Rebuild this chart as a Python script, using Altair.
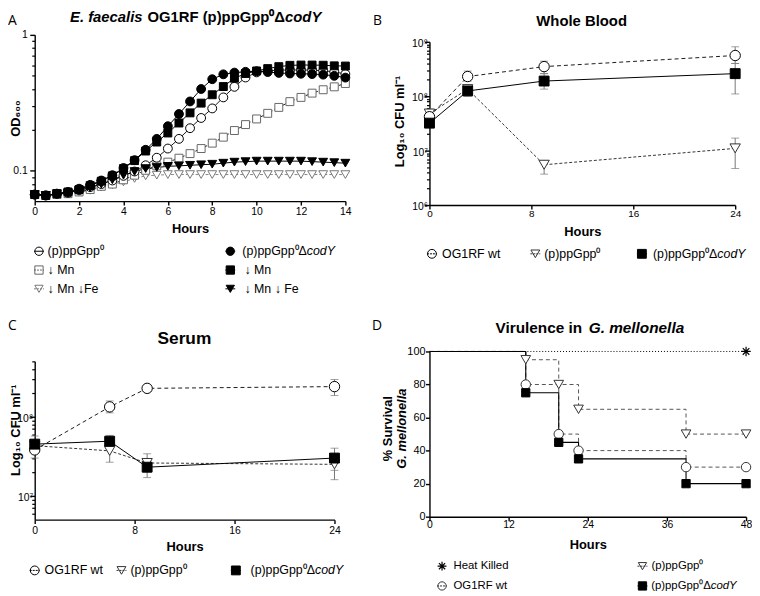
import altair as alt
import pandas as pd

# ---------------- Panel A: growth curves (OD600, log scale) ----------------
hours_a = [0, 0.5, 1, 1.5, 2, 2.5, 3, 3.5, 4, 4.5, 5, 5.5, 6, 6.5, 7, 7.5,
           8, 8.5, 9, 9.5, 10, 10.5, 11, 11.5, 12, 12.5, 13, 13.5, 14]
od_p0 = [0.067, 0.066, 0.068, 0.069, 0.072, 0.076, 0.080, 0.085, 0.092, 0.099,
         0.110, 0.125, 0.146, 0.172, 0.206, 0.245, 0.288, 0.347, 0.415, 0.486,
         0.530, 0.545, 0.550, 0.552, 0.552, 0.550, 0.545, 0.535, 0.515]
od_p0_mn = [0.067, 0.066, 0.067, 0.068, 0.070, 0.073, 0.077, 0.080, 0.086, 0.093,
            0.101, 0.109, 0.116, 0.124, 0.134, 0.146, 0.160, 0.177, 0.198, 0.219,
            0.241, 0.265, 0.293, 0.323, 0.347, 0.373, 0.395, 0.415, 0.439]
od_p0_mnfe = [0.067, 0.066, 0.067, 0.068, 0.070, 0.072, 0.076, 0.079, 0.083, 0.088,
              0.092, 0.093, 0.094, 0.094, 0.094, 0.094, 0.094, 0.094, 0.094, 0.094,
              0.094, 0.094, 0.094, 0.094, 0.094, 0.094, 0.094, 0.094, 0.094]
od_cody = [0.067, 0.066, 0.068, 0.070, 0.074, 0.079, 0.085, 0.093, 0.105, 0.120,
           0.143, 0.172, 0.213, 0.262, 0.324, 0.400, 0.472, 0.513, 0.528, 0.535,
           0.540, 0.533, 0.525, 0.520, 0.518, 0.515, 0.510, 0.500, 0.485]
od_cody_mn = [0.067, 0.066, 0.068, 0.070, 0.073, 0.078, 0.084, 0.092, 0.104, 0.119,
              0.140, 0.163, 0.190, 0.225, 0.267, 0.315, 0.363, 0.417, 0.480, 0.520,
              0.543, 0.565, 0.584, 0.597, 0.600, 0.600, 0.598, 0.592, 0.590]
od_cody_mnfe = [0.067, 0.066, 0.068, 0.069, 0.072, 0.075, 0.080, 0.086, 0.093, 0.099,
                0.104, 0.106, 0.108, 0.109, 0.110, 0.111, 0.112, 0.114, 0.116, 0.117,
                0.118, 0.118, 0.118, 0.118, 0.118, 0.117, 0.116, 0.115, 0.114]

# ---------------- Panel B: whole blood (CFU/ml) ----------------
hours_b = [0, 3, 9, 24]
wb_wt = [4.2e7, 2.3e8, 3.5e8, 5.6e8]
wb_wt_lo = [3.6e7, 1.9e8, 2.6e8, 4.0e8]
wb_wt_hi = [5.0e7, 2.9e8, 4.4e8, 8.1e8]
wb_p0 = [4.8e7, 1.35e8, 5.5e6, 1.1e7]
wb_p0_lo = [4.1e7, 1.15e8, 3.7e6, 4.7e6]
wb_p0_hi = [5.8e7, 1.6e8, 6.6e6, 1.7e7]
wb_cody = [3.2e7, 1.25e8, 1.9e8, 2.6e8]
wb_cody_lo = [2.7e7, 1.0e8, 1.35e8, 1.1e8]
wb_cody_hi = [3.8e7, 1.6e8, 2.6e8, 4.0e8]

# ---------------- Panel C: serum (CFU/ml) ----------------
hours_c = [0, 6, 9, 24]
se_wt = [3.8e7, 1.33e8, 2.28e8, 2.4e8]
se_wt_lo = [3.0e7, 1.12e8, 2.1e8, 1.85e8]
se_wt_hi = [4.4e7, 1.58e8, 2.45e8, 2.95e8]
se_p0 = [4.3e7, 3.7e7, 2.6e7, 2.5e7]
se_p0_lo = [3.6e7, 2.66e7, 2.0e7, 1.6e7]
se_p0_hi = [5.0e7, 4.5e7, 3.4e7, 3.2e7]
se_cody = [4.5e7, 4.9e7, 2.3e7, 3.0e7]
se_cody_lo = [3.9e7, 4.1e7, 1.7e7, 2.1e7]
se_cody_hi = [5.7e7, 5.8e7, 2.9e7, 4.0e7]

# ---------------- Panel D: G. mellonella survival ----------------
hours_d = [0, 14.6, 19.6, 22.6, 38.9, 48]
surv_p0 = [100, 95, 80, 65, 50, 50]
surv_wt = [100, 80, 50, 40, 30, 30]
surv_cody = [100, 75, 45, 35, 20, 20]
hours_hk = [0, 48]
surv_hk = [100, 100]

# ---------------- layout / style ----------------
W, H = 752, 588
FONT = "Liberation Sans, Arial, Helvetica, sans-serif"
LETTER_FONT = "Open Sans, Liberation Sans, sans-serif"
ONE = pd.DataFrame({"k": [0]})
STAR = "M0,-1L0,1M-1,0L1,0M-0.7,-0.7L0.7,0.7M-0.7,0.7L0.7,-0.7"


def s_lin(dom, rng):
    return alt.Scale(type="linear", domain=dom, range=rng, nice=False, zero=False)


def s_log(dom, rng):
    return alt.Scale(type="log", domain=dom, range=rng, nice=False)


SAX = s_lin([0, 14], [27, 341]); SAY = s_log([0.06, 1], [192, 24])
SBX = s_lin([0, 24], [426, 735]); SBY = s_log([1e6, 1e9], [196, 31])
SCX = s_lin([0, 24], [27, 330]); SCY = s_log([5e6, 5e8], [514, 354])
SDX = s_lin([0, 48], [426, 746]); SDY = s_lin([0, 100], [511, 344])

BASE = dict(grid=False, domainColor="black", domainWidth=1.4, tickColor="black",
            tickWidth=1.4, labelColor="black", labelFont=FONT, titleFont=FONT,
            titleColor="black", labelFlush=False, labelOverlap=False, labelBound=False)


def frame(t, v):
    return pd.DataFrame({"t": t, "v": v})


def line(df, sx, sy, color="black", width=1.0, dash=None, interp=None):
    kw = dict(color=color, strokeWidth=width)
    if dash:
        kw["strokeDash"] = dash
    if interp:
        kw["interpolate"] = interp
    return alt.Chart(df).mark_line(**kw).encode(
        x=alt.X("t:Q", scale=sx, axis=None), y=alt.Y("v:Q", scale=sy, axis=None))


def pts(df, sx, sy, shape, size, fill, stroke="black", sw=1.0, filt=None):
    ch = alt.Chart(df)
    if filt:
        ch = ch.transform_filter(filt)
    if fill == "none":
        mk = ch.mark_point(shape=shape, size=size, filled=False, stroke=stroke,
                           strokeWidth=sw, opacity=1)
    else:
        mk = ch.mark_point(shape=shape, size=size, filled=True, fill=fill, stroke=stroke,
                           strokeWidth=sw, opacity=1, fillOpacity=1)
    return mk.encode(x=alt.X("t:Q", scale=sx, axis=None), y=alt.Y("v:Q", scale=sy, axis=None))


def errs(t, lo, hi, sx, sy, color="#777777"):
    df = pd.DataFrame({"t": t, "lo": lo, "hi": hi})
    out = [alt.Chart(df).mark_rule(color=color, strokeWidth=1).encode(
        x=alt.X("t:Q", scale=sx, axis=None), y=alt.Y("lo:Q", scale=sy, axis=None), y2="hi:Q")]
    for f in ("lo", "hi"):
        out.append(alt.Chart(df).mark_tick(orient="horizontal", size=8, thickness=1, color=color).encode(
            x=alt.X("t:Q", scale=sx, axis=None), y=alt.Y(f + ":Q", scale=sy, axis=None)))
    return out


def axes(sx, sy, v0, xaxis, yaxis):
    return alt.Chart(frame([0], [v0])).mark_point(opacity=0).encode(
        x=alt.X("t:Q", scale=sx, axis=xaxis), y=alt.Y("v:Q", scale=sy, axis=yaxis))


def txt(s, x, y, size, weight="normal", style="normal", align="left",
        baseline="middle", angle=0, font=FONT, color="black"):
    kw = dict(text=s, fontSize=size, fontWeight=weight, fontStyle=style, align=align,
              baseline=baseline, font=font, color=color)
    if angle:
        kw["angle"] = angle
    return alt.Chart(ONE).mark_text(**kw).encode(x=alt.value(x), y=alt.value(y))


def sym(x, y, shape, size, fill, stroke="black", dash=None, sw=1.0):
    if fill == "none":
        p = alt.Chart(ONE).mark_point(shape=shape, size=size, filled=False, stroke=stroke,
                                      strokeWidth=sw, opacity=1)
    else:
        p = alt.Chart(ONE).mark_point(shape=shape, size=size, filled=True, fill=fill,
                                      stroke=stroke, strokeWidth=sw, opacity=1, fillOpacity=1)
    p = p.encode(x=alt.value(x), y=alt.value(y))
    kw = dict(color=stroke, strokeWidth=1)
    if dash:
        kw["strokeDash"] = dash
    r = alt.Chart(ONE).mark_rule(**kw).encode(
        x=alt.value(x - 5), x2=alt.value(x + 5), y=alt.value(y))
    return [p, r]


def cody_label(join, y, size):
    return [txt("(p)ppGpp⁰Δ", join, y, size, align="right"),
            txt("codY", join, y, size, style="italic")]


layers = []

# ================= Panel A =================
dA = {k: frame(hours_a, v) for k, v in [("p0", od_p0), ("p0mn", od_p0_mn), ("p0mnfe", od_p0_mnfe),
                                        ("c", od_cody), ("cmn", od_cody_mn), ("cmnfe", od_cody_mnfe)]}
layers += [
    line(dA["p0mnfe"], SAX, SAY, "#777777", 0.9, [3, 2]),
    line(dA["p0mn"], SAX, SAY, "black", 0.9, [3, 2]),
    line(dA["p0"], SAX, SAY, "black", 0.9),
    line(dA["cmnfe"], SAX, SAY, "black", 1.0),
    line(dA["c"], SAX, SAY, "black", 1.0),
    line(dA["cmn"], SAX, SAY, "black", 1.0),
    pts(dA["p0mnfe"], SAX, SAY, "triangle-down", 80, "white", "#777777"),
    pts(dA["p0mn"], SAX, SAY, "square", 64, "white", "#666666"),
    pts(dA["p0"], SAX, SAY, "circle", 80, "white", "black"),
    pts(dA["cmnfe"], SAX, SAY, "triangle-down", 80, "black"),
    pts(dA["c"], SAX, SAY, "circle", 80, "black"),
    pts(dA["cmn"], SAX, SAY, "square", 64, "black"),
]
layers += [
    axes(SAX, SAY, 0.1,
         alt.Axis(orient="bottom", offset=-396, values=[0, 2, 4, 6, 8, 10, 12, 14], tickSize=4,
                  labelPadding=2, labelFontSize=10.5, title="Hours", titleFontSize=13,
                  titleFontWeight="bold", titleY=31.3, titleBaseline="alphabetic", **BASE),
         alt.Axis(orient="left", offset=-27, values=[0.1, 1], tickSize=5, labelPadding=2.5,
                  labelFontSize=10.5, labelExpr="datum.value >= 1 ? '1' : '0.1'",
                  title="OD₆₀₀", titleFontSize=13, titleFontWeight="bold", titleX=-19.5,
                  titleBaseline="middle", titleAngle=270, titleAlign="center", **BASE)),
    axes(SAX, SAY, 0.1, None,
         alt.Axis(orient="left", offset=-27, values=[0.07, 0.08, 0.09, 0.2, 0.3, 0.4, 0.5, 0.6, 0.7, 0.8, 0.9],
                  tickSize=3, labels=False, domain=False, title="", grid=False,
                  tickColor="black", tickWidth=1.2)),
]
layers += [txt("A", 0, 13.7, 14, font=LETTER_FONT, baseline="alphabetic"),
           txt("OG1RF (p)ppGpp⁰Δ", 280, 10.5, 15, weight="bold", align="right", baseline="alphabetic"),
           txt("codY", 280, 10.5, 15, weight="bold", style="italic", baseline="alphabetic"),
           txt("E. faecalis", 136, 10.5, 15, weight="bold", style="italic", align="right", baseline="alphabetic")]
# legend A
for (yy, shp, fc, sc, dash, lab) in [(242.7, "circle", "white", "black", None, "(p)ppGpp⁰"),
                                     (261.7, "square", "white", "#666666", [2, 1], "↓ Mn"),
                                     (280.7, "triangle-down", "white", "#777777", [2, 1], "↓ Mn ↓Fe")]:
    layers += sym(31.3, yy, shp, 70, fc, sc, dash)
    layers.append(txt(lab, 40, yy, 12.5))
for (yy, shp) in [(242.7, "circle"), (261.7, "square"), (280.7, "triangle-down")]:
    layers += sym(224.7, yy, shp, 70, "black")
layers += cody_label(302, 242.7, 12.5)
layers += [txt("↓ Mn", 239, 261.7, 12.5), txt("↓ Mn ↓ Fe", 239, 280.7, 12.5)]

# ================= Panel B =================
dB = {"wt": frame(hours_b, wb_wt), "p0": frame(hours_b, wb_p0), "c": frame(hours_b, wb_cody)}
layers += errs(hours_b, wb_wt_lo, wb_wt_hi, SBX, SBY)
layers += errs(hours_b, wb_p0_lo, wb_p0_hi, SBX, SBY)
layers += errs(hours_b, wb_cody_lo, wb_cody_hi, SBX, SBY)
layers += [
    line(dB["p0"], SBX, SBY, "black", 0.8, [3, 2]),
    line(dB["wt"], SBX, SBY, "black", 0.9, [4, 3]),
    line(dB["c"], SBX, SBY, "black", 1.0),
    pts(dB["p0"], SBX, SBY, "triangle-down", 110, "white", "#333333"),
    pts(dB["wt"], SBX, SBY, "circle", 110, "white", "black"),
    pts(dB["c"], SBX, SBY, "square", 100, "black"),
]
SUP = ("'10' + (datum.value > 5e8 ? '⁹' : datum.value > 5e7 ? '⁸' : "
       "datum.value > 5e6 ? '⁷' : '⁶')")
minor_b = [2e6, 3e6, 4e6, 5e6, 6e6, 7e6, 8e6, 9e6, 2e7, 3e7, 4e7, 5e7, 6e7, 7e7, 8e7, 9e7,
           2e8, 3e8, 4e8, 5e8, 6e8, 7e8, 8e8, 9e8]
layers += [
    axes(SBX, SBY, 1e7,
         alt.Axis(orient="bottom", offset=-392, values=[0, 8, 16, 24], tickSize=4, labelPadding=0,
                  labelFontSize=10, title="Hours", titleFontSize=13, titleFontWeight="bold",
                  titleY=31.2, titleBaseline="alphabetic", **BASE),
         alt.Axis(orient="left", offset=-426, values=[1e6, 1e7, 1e8, 1e9], tickSize=5,
                  labelPadding=-3, labelOffset=1.5, labelFontSize=10.5, labelExpr=SUP,
                  title="Log₁₀ CFU ml⁻¹", titleFontSize=13, titleFontWeight="bold", titleX=-30,
                  titleY=111, titleBaseline="middle", titleAngle=270, titleAlign="center", **BASE)),
    axes(SBX, SBY, 1e7, None,
         alt.Axis(orient="left", offset=-426, values=minor_b, tickSize=3, labels=False,
                  domain=False, title="", grid=False, tickColor="black", tickWidth=1.2)),
]
layers += [txt("B", 369, 14, 14, font=LETTER_FONT, baseline="alphabetic"),
           txt("Whole Blood", 579.8, 14.6, 15, weight="bold", align="center", baseline="alphabetic")]
layers += sym(428.5, 245.3, "circle", 80, "white", "black", [2, 1])
layers.append(txt("OG1RF wt", 438.7, 245.3, 12.5))
layers += sym(533, 245.3, "triangle-down", 80, "white", "#333333", [2, 1])
layers.append(txt("(p)ppGpp⁰", 542, 245.3, 12.5))
layers += sym(640.7, 245.3, "square", 80, "black")
layers += cody_label(717, 245.3, 12.5)

# ================= Panel C =================
dC = {"wt": frame(hours_c, se_wt), "p0": frame(hours_c, se_p0), "c": frame(hours_c, se_cody)}
layers += errs(hours_c, se_wt_lo, se_wt_hi, SCX, SCY)
layers += errs(hours_c, se_p0_lo, se_p0_hi, SCX, SCY)
layers += errs(hours_c, se_cody_lo, se_cody_hi, SCX, SCY)
layers += [
    line(dC["p0"], SCX, SCY, "black", 0.8, [3, 2]),
    line(dC["wt"], SCX, SCY, "black", 0.9, [4, 3]),
    line(dC["c"], SCX, SCY, "black", 1.0),
    pts(dC["p0"], SCX, SCY, "triangle-down", 110, "white", "#333333"),
    pts(dC["wt"], SCX, SCY, "circle", 110, "white", "black"),
    pts(dC["c"], SCX, SCY, "square", 100, "black"),
]
minor_c = [6e6, 7e6, 8e6, 9e6, 2e7, 3e7, 4e7, 5e7, 6e7, 7e7, 8e7, 9e7, 2e8, 3e8, 4e8, 5e8]
layers += [
    axes(SCX, SCY, 1e7,
         alt.Axis(orient="bottom", offset=-74, values=[0, 8, 16, 24], tickSize=4, labelPadding=2,
                  labelFontSize=10.5, title="Hours", titleFontSize=13, titleFontWeight="bold",
                  titleY=31, titleBaseline="alphabetic", **BASE),
         alt.Axis(orient="left", offset=-27, values=[1e7, 1e8], tickSize=5,
                  labelPadding=-3, labelOffset=1.5, labelFontSize=10.5, labelExpr=SUP,
                  title="Log₁₀ CFU ml⁻¹", titleFontSize=13, titleFontWeight="bold", titleX=-19.5,
                  titleY=423, titleBaseline="middle", titleAngle=270, titleAlign="center", **BASE)),
    axes(SCX, SCY, 1e7, None,
         alt.Axis(orient="left", offset=-27, values=minor_c, tickSize=3, labels=False,
                  domain=False, title="", grid=False, tickColor="black", tickWidth=1.2)),
]
layers += [txt("C", 0, 322, 14, font=LETTER_FONT, baseline="alphabetic"),
           txt("Serum", 178.3, 336.6, 17.5, weight="bold", align="center", baseline="alphabetic")]
layers += sym(27, 565.3, "circle", 80, "white", "black", [2, 1])
layers.append(txt("OG1RF wt", 37, 565.3, 12.5))
layers += sym(114.7, 565.3, "triangle-down", 80, "white", "#333333", [2, 1])
layers.append(txt("(p)ppGpp⁰", 123.7, 565.3, 12.5))
layers += sym(230.3, 565.3, "square", 80, "black")
layers += cody_label(310.3, 565.3, 12.5)

# ================= Panel D =================
dD = {"hk": frame(hours_hk, surv_hk), "p0": frame(hours_d, surv_p0),
      "wt": frame(hours_d, surv_wt), "c": frame(hours_d, surv_cody)}
layers += [
    line(dD["hk"], SDX, SDY, "black", 1.0, [1, 2]),
    line(dD["p0"], SDX, SDY, "#555555", 1.0, [4, 3], "step-after"),
    line(dD["wt"], SDX, SDY, "#555555", 1.0, [4, 3], "step-after"),
    line(dD["c"], SDX, SDY, "black", 1.1, None, "step-after"),
    pts(dD["hk"], SDX, SDY, STAR, 90, "none", "black", 1.2, "datum.t > 0"),
    pts(dD["p0"], SDX, SDY, "triangle-down", 95, "white", "#333333", 1.0, "datum.t > 0"),
    pts(dD["wt"], SDX, SDY, "circle", 90, "white", "#333333", 1.0, "datum.t > 0"),
    pts(dD["c"], SDX, SDY, "square", 70, "black", "black", 1.0, "datum.t > 0"),
]
layers += [
    axes(SDX, SDY, 50,
         alt.Axis(orient="bottom", offset=-77, values=[0, 12, 24, 36, 48], tickSize=4, labelPadding=-1,
                  labelFontSize=10.5, title="Hours", titleFontSize=13, titleFontWeight="bold",
                  titleY=32, titleBaseline="alphabetic", **BASE),
         alt.Axis(orient="left", offset=-426, values=[0, 20, 40, 60, 80, 100], tickSize=4,
                  labelPadding=0.5, labelFontSize=11, title="", **BASE)),
]
layers += [txt("D", 368, 322, 14, font=LETTER_FONT, baseline="alphabetic"),
           txt("Virulence in", 580.3, 325.8, 15.5, weight="bold", align="right", baseline="alphabetic"),
           txt("G. mellonella", 587, 325.8, 15.5, weight="bold", style="italic", baseline="alphabetic"),
           txt("% Survival", 384.5, 422, 13, weight="bold", align="center", angle=270),
           txt("G. mellonella", 398, 422, 13, weight="bold", style="italic", align="center", angle=270)]
star = alt.Chart(ONE).mark_point(shape=STAR, size=80, filled=False, stroke="black",
                                 strokeWidth=1.2, opacity=1).encode(x=alt.value(438.7), y=alt.value(561))
layers.append(star)
layers.append(txt("Heat Killed", 450.3, 561, 11.5))
layers += sym(438.7, 581, "circle", 70, "white", "#333333", [2, 1])
layers.append(txt("OG1RF wt", 450.3, 581, 11.5))
layers += sym(641.3, 561, "triangle-down", 70, "white", "#333333", [2, 1])
layers.append(txt("(p)ppGpp⁰", 650.3, 561, 11.5))
layers += sym(641.3, 581, "square", 70, "black")
layers += cody_label(710.3, 581, 11.5)

chart = alt.layer(*layers).resolve_scale(
    x="independent", y="independent"
).resolve_axis(
    x="independent", y="independent"
).properties(
    width=W, height=H, autosize=alt.AutoSizeParams(type="none"), padding=0, background="white"
).configure_view(stroke=None)

chart.save("out.html", embed_options={"renderer": "svg", "actions": False})
